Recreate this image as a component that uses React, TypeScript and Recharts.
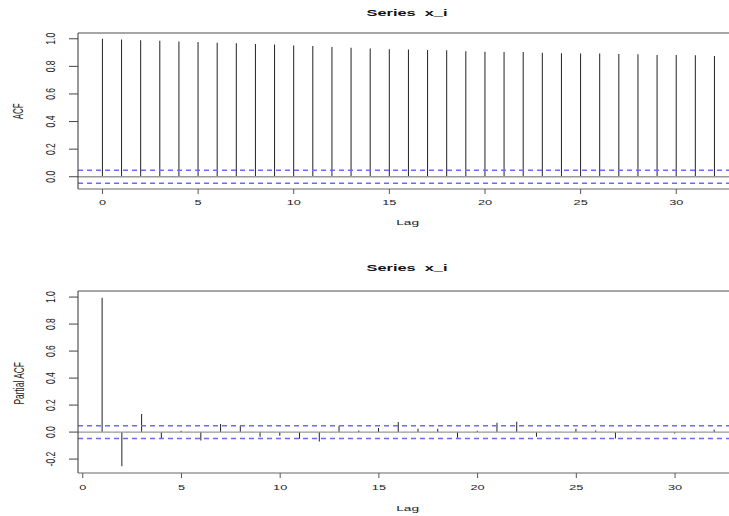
import React from "react";
import { ComposedChart, Bar, XAxis, YAxis, ReferenceLine } from "recharts";

// ---- data ----
const acfLags = [0, 1, 2, 3, 4, 5, 6, 7, 8, 9, 10, 11, 12, 13, 14, 15, 16, 17, 18, 19, 20, 21, 22, 23, 24, 25, 26, 27, 28, 29, 30, 31, 32];
const acfValues = [1.0, 0.995, 0.99, 0.985, 0.981, 0.976, 0.971, 0.967, 0.962, 0.959, 0.952, 0.947, 0.94, 0.935, 0.93, 0.925, 0.923, 0.918, 0.916, 0.909, 0.906, 0.904, 0.904, 0.899, 0.896, 0.894, 0.894, 0.889, 0.887, 0.882, 0.882, 0.88, 0.875];
const pacfLags = [1, 2, 3, 4, 5, 6, 7, 8, 9, 10, 11, 12, 13, 14, 15, 16, 17, 18, 19, 20, 21, 22, 23, 24, 25, 26, 27, 28, 29, 30, 31, 32];
const pacfValues = [0.995, -0.253, 0.134, -0.045, 0.01, -0.062, 0.06, 0.045, -0.035, -0.027, -0.05, -0.07, 0.045, 0.012, 0.03, 0.075, 0.025, 0.025, -0.042, 0.01, 0.07, 0.077, -0.035, 0.003, 0.025, 0.012, -0.048, 0.005, 0.002, -0.01, -0.004, 0.018];
const xTicks = [0, 5, 10, 15, 20, 25, 30];
const acfYTicks = [0, 0.2, 0.4, 0.6, 0.8, 1.0];
const pacfYTicks = [-0.2, 0, 0.2, 0.4, 0.6, 0.8, 1.0];
const confLimit = 0.047;
const acfXDomain = [-1.28, 33.28];
const acfYDomain = [-0.0889, 1.0419];
const pacfXDomain = [-0.24, 33.24];
const pacfYDomain = [-0.303, 1.045];
const titleText = "Series  x_i";
const xLabelText = "Lag";
const acfLabelText = "ACF";
const pacfLabelText = "Partial ACF";

const acfData = acfLags.map((lag, i) => ({ lag, v: acfValues[i] }));
const pacfData = pacfLags.map((lag, i) => ({ lag, v: pacfValues[i] }));

const FONT = '"Liberation Sans", Arial, Helvetica, sans-serif';
const INK = "#222";
const CI_BLUE = "#6a6aff";

const XTick = (props: any) => {
  const { x, y, payload } = props;
  return (
    <g transform={`translate(${x},${y}) scale(1.7,1)`}>
      <text textAnchor="middle" dy="0.71em" fontSize={7.5} fontFamily={FONT} fill={INK}>
        {payload.value}
      </text>
    </g>
  );
};

const YTick = (props: any) => {
  const { x, y, payload } = props;
  return (
    <g transform={`translate(${x},${y}) scale(1.4,1) rotate(-90)`}>
      <text textAnchor="middle" fontSize={8.5} fontFamily={FONT} fill={INK}>
        {Number(payload.value).toFixed(1)}
      </text>
    </g>
  );
};

type PanelProps = {
  data: { lag: number; v: number }[];
  xDomain: number[];
  yDomain: number[];
  yTicks: number[];
  top: number;
  marginBottom: number;
  tickMargin: number;
};

const Panel = ({ data, xDomain, yDomain, yTicks, top, marginBottom, tickMargin }: PanelProps) => (
  <div style={{ position: "absolute", left: 0, top }}>
    <ComposedChart
      width={740}
      height={258}
      data={data}
      margin={{ top: 33, right: 1, bottom: marginBottom, left: 0 }}
    >
      <XAxis
        dataKey="lag"
        type="number"
        domain={xDomain}
        allowDataOverflow
        ticks={xTicks}
        interval={0}
        height={40}
        tickSize={5}
        tickMargin={tickMargin}
        axisLine={{ stroke: "#666", strokeWidth: 1.2 }}
        tickLine={{ stroke: "#555" }}
        tick={<XTick />}
      />
      <YAxis
        type="number"
        domain={yDomain}
        allowDataOverflow
        ticks={yTicks}
        interval={0}
        width={78}
        tickSize={9}
        tickMargin={14}
        axisLine={{ stroke: "#333" }}
        tickLine={{ stroke: "#444" }}
        tick={<YTick />}
      />
      <Bar dataKey="v" barSize={1} fill={INK} isAnimationActive={false} />
      <ReferenceLine y={0} stroke="#999" strokeWidth={1.3} />
      <ReferenceLine y={confLimit} stroke={CI_BLUE} strokeWidth={1.4} strokeDasharray="5 4" />
      <ReferenceLine y={-confLimit} stroke={CI_BLUE} strokeWidth={1.4} strokeDasharray="5 4" />
      <ReferenceLine y={yDomain[1]} stroke="#888" strokeWidth={1.3} />
    </ComposedChart>
  </div>
);

const STitle = ({ x, y, text }: { x: number; y: number; text: string }) => (
  <g transform={`translate(${x},${y}) scale(1.93,1)`}>
    <text textAnchor="middle" fontSize={8.5} fontWeight="bold" fontFamily={FONT} fill="#111" style={{ whiteSpace: "pre" }}>
      {text}
    </text>
  </g>
);

const SXLabel = ({ x, y, text }: { x: number; y: number; text: string }) => (
  <g transform={`translate(${x},${y}) scale(1.72,1)`}>
    <text textAnchor="middle" fontSize={8} fontFamily={FONT} fill={INK}>
      {text}
    </text>
  </g>
);

const SYLabel = ({ x, y, text, size, sx }: { x: number; y: number; text: string; size: number; sx: number }) => (
  <g transform={`translate(${x},${y}) scale(${sx},1) rotate(-90)`}>
    <text textAnchor="middle" fontSize={size} fontFamily={FONT} fill={INK}>
      {text}
    </text>
  </g>
);

export default function App() {
  return (
    <div
      style={{
        position: "fixed",
        left: 0,
        top: 0,
        width: 729,
        height: 516,
        overflow: "hidden",
        background: "#fff",
      }}
    >
      <Panel data={acfData} xDomain={acfXDomain} yDomain={acfYDomain} yTicks={acfYTicks} top={0} marginBottom={29} tickMargin={6} />
      <Panel data={pacfData} xDomain={pacfXDomain} yDomain={pacfYDomain} yTicks={pacfYTicks} top={258} marginBottom={3} tickMargin={7} />
      <svg width={729} height={516} style={{ position: "absolute", left: 0, top: 0, pointerEvents: "none" }}>
        <STitle x={407} y={16} text={titleText} />
        <STitle x={407} y={271.3} text={titleText} />
        <SXLabel x={407.7} y={225} text={xLabelText} />
        <SXLabel x={407.7} y={510.7} text={xLabelText} />
        <SYLabel x={23} y={111.3} text={acfLabelText} size={8} sx={1.9} />
        <SYLabel x={24} y={383.3} text={pacfLabelText} size={8.4} sx={1.7} />
      </svg>
    </div>
  );
}
